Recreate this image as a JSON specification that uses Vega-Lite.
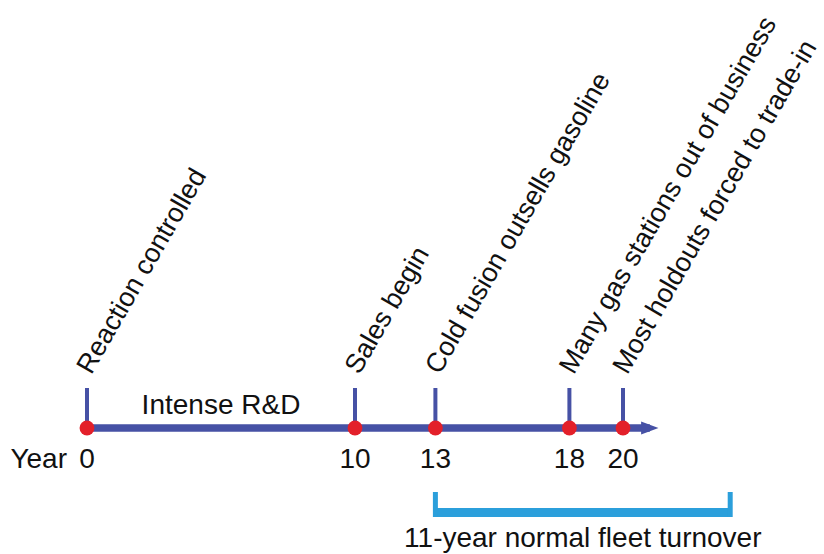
{
  "$schema": "https://vega.github.io/schema/vega-lite/v6.json",
  "width": 824,
  "height": 554,
  "autosize": {"type": "none"},
  "padding": 0,
  "background": "white",
  "config": {"view": {"stroke": null}, "font": "Liberation Sans"},
  "datasets": {
    "events": [
      {"year": 0, "num": "0", "label": "Reaction controlled"},
      {"year": 10, "num": "10", "label": "Sales begin"},
      {"year": 13, "num": "13", "label": "Cold fusion outsells gasoline"},
      {"year": 18, "num": "18", "label": "Many gas stations out of business"},
      {"year": 20, "num": "20", "label": "Most holdouts forced to trade-in"}
    ],
    "timeline": [{"start": 0, "end": 21, "labelYear": 5, "label": "Intense R&D"}],
    "turnover": [{"start": 13, "end": 24, "mid": 18.5, "label": "11-year normal fleet turnover"}]
  },
  "layer": [
    {
      "data": {"name": "timeline"},
      "mark": {"type": "rule", "strokeWidth": 7.5, "color": "#4651a5", "strokeCap": "butt"},
      "encoding": {
        "x": {"field": "start", "type": "quantitative", "scale": {"domain": [-3.246, 27.5], "nice": false, "zero": false}, "axis": null},
        "x2": {"field": "end"},
        "y": {"datum": 0, "type": "quantitative", "scale": {"domain": [-12.6, 42.8], "nice": false, "zero": false}, "axis": null}
      }
    },
    {
      "data": {"name": "timeline"},
      "mark": {"type": "point", "filled": true, "opacity": 1, "shape": "M-1,-0.75L1,0L-1,0.75Z", "size": 300, "color": "#4651a5"},
      "encoding": {
        "x": {"field": "end", "type": "quantitative"},
        "y": {"datum": 0, "type": "quantitative"}
      }
    },
    {
      "data": {"name": "events"},
      "mark": {"type": "rule", "strokeWidth": 4, "color": "#4651a5"},
      "encoding": {
        "x": {"field": "year", "type": "quantitative"},
        "y": {"datum": 0, "type": "quantitative"},
        "y2": {"datum": 4.0}
      }
    },
    {
      "data": {"name": "events"},
      "mark": {"type": "circle", "size": 220, "opacity": 1, "color": "#e3202a"},
      "encoding": {
        "x": {"field": "year", "type": "quantitative"},
        "y": {"datum": 0, "type": "quantitative"}
      }
    },
    {
      "data": {"name": "events"},
      "mark": {"type": "text", "fontSize": 28, "align": "center", "baseline": "alphabetic", "color": "#111111"},
      "encoding": {
        "x": {"field": "year", "type": "quantitative"},
        "y": {"datum": -4.0, "type": "quantitative"},
        "text": {"field": "num"}
      }
    },
    {
      "data": {"name": "events"},
      "transform": [{"filter": "datum.year === 0"}],
      "mark": {"type": "text", "fontSize": 28, "align": "right", "baseline": "alphabetic", "dx": -20, "color": "#111111", "text": "Year"},
      "encoding": {
        "x": {"field": "year", "type": "quantitative"},
        "y": {"datum": -4.0, "type": "quantitative"}
      }
    },
    {
      "data": {"name": "events"},
      "mark": {"type": "text", "fontSize": 27, "align": "left", "baseline": "alphabetic", "angle": -60, "dy": 5, "color": "#111111"},
      "encoding": {
        "x": {"field": "year", "type": "quantitative"},
        "y": {"datum": 5.5, "type": "quantitative"},
        "text": {"field": "label"}
      }
    },
    {
      "data": {"name": "timeline"},
      "mark": {"type": "text", "fontSize": 28, "align": "center", "baseline": "alphabetic", "color": "#111111"},
      "encoding": {
        "x": {"field": "labelYear", "type": "quantitative"},
        "y": {"datum": 1.4, "type": "quantitative"},
        "text": {"field": "label"}
      }
    },
    {
      "data": {"name": "turnover"},
      "mark": {"type": "rule", "strokeWidth": 9, "color": "#2b9fdb", "strokeCap": "butt"},
      "encoding": {
        "x": {"field": "start", "type": "quantitative"},
        "x2": {"field": "end"},
        "y": {"datum": -8.45, "type": "quantitative"}
      }
    },
    {
      "data": {"name": "turnover"},
      "mark": {"type": "rule", "strokeWidth": 5, "color": "#2b9fdb", "strokeCap": "butt"},
      "encoding": {
        "x": {"field": "start", "type": "quantitative"},
        "y": {"datum": -8.9, "type": "quantitative"},
        "y2": {"datum": -6.4}
      }
    },
    {
      "data": {"name": "turnover"},
      "mark": {"type": "rule", "strokeWidth": 5, "color": "#2b9fdb", "strokeCap": "butt"},
      "encoding": {
        "x": {"field": "end", "type": "quantitative"},
        "y": {"datum": -8.9, "type": "quantitative"},
        "y2": {"datum": -6.4}
      }
    },
    {
      "data": {"name": "turnover"},
      "mark": {"type": "text", "fontSize": 28, "align": "center", "baseline": "alphabetic", "color": "#111111"},
      "encoding": {
        "x": {"field": "mid", "type": "quantitative"},
        "y": {"datum": -11.85, "type": "quantitative"},
        "text": {"field": "label"}
      }
    }
  ]
}
